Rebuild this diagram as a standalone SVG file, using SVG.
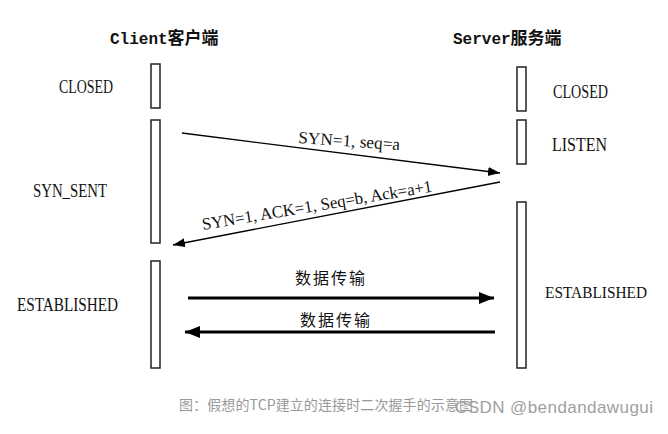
<svg xmlns="http://www.w3.org/2000/svg" width="668" height="434" viewBox="0 0 668 434">
<style>
.bar{fill:#fff;stroke:#222;stroke-width:1.5}
.title{font-family:"Liberation Mono","Noto Sans CJK SC",monospace;font-weight:bold;fill:#111}
.state{font-family:"Liberation Serif","Noto Sans CJK SC",serif;font-size:19px;fill:#111}
.lbl{font-family:"Liberation Serif","Noto Sans CJK SC",serif;fill:#111}
.cjk{font-family:"Noto Sans CJK SC",sans-serif;font-size:16px;fill:#111;letter-spacing:2px}
.thin{stroke:#000;stroke-width:1.3;fill:none}
.thick{stroke:#000;stroke-width:3;fill:none}
</style>
<defs>
<marker id="ah" markerUnits="userSpaceOnUse" markerWidth="13" markerHeight="10" refX="12" refY="4.5" orient="auto"><path d="M0,0 L12,4.5 L0,9 z" fill="#000"/></marker>
<marker id="ahb" markerUnits="userSpaceOnUse" markerWidth="16" markerHeight="13" refX="15" refY="6" orient="auto"><path d="M0,0 L15,6 L0,12 z" fill="#000"/></marker>
</defs>
<rect width="668" height="434" fill="#fff"/>
<g id="client">
<text class="title" x="110" y="44"><tspan font-size="16">Client</tspan><tspan font-size="17" font-family="Noto Sans CJK SC, sans-serif">客户端</tspan></text>
<rect class="bar" x="151" y="64" width="9" height="44"/>
<rect class="bar" x="151" y="120" width="9" height="123"/>
<rect class="bar" x="151" y="261" width="9" height="107"/>
<text class="state" x="59" y="93" textLength="54" lengthAdjust="spacingAndGlyphs">CLOSED</text>
<text class="state" x="33" y="197" textLength="74" lengthAdjust="spacingAndGlyphs">SYN_SENT</text>
<text class="state" x="17" y="311" textLength="101" lengthAdjust="spacingAndGlyphs">ESTABLISHED</text>
</g>
<g id="server">
<text class="title" x="453" y="44"><tspan font-size="16">Server</tspan><tspan font-size="17" font-family="Noto Sans CJK SC, sans-serif">服务端</tspan></text>
<rect class="bar" x="517" y="67" width="9" height="44"/>
<rect class="bar" x="517" y="120" width="9" height="44"/>
<rect class="bar" x="517" y="202" width="9" height="166"/>
<text class="state" x="553" y="98" textLength="55" lengthAdjust="spacingAndGlyphs">CLOSED</text>
<text class="state" x="552" y="151" textLength="55" lengthAdjust="spacingAndGlyphs">LISTEN</text>
<text class="state" x="545" y="298" style="font-size:17px" textLength="102" lengthAdjust="spacingAndGlyphs">ESTABLISHED</text>
</g>
<g id="connectors">
<line class="thin" x1="182" y1="133" x2="500" y2="173" marker-end="url(#ah)"/>
<line class="thin" x1="500" y1="182" x2="173" y2="245" marker-end="url(#ah)"/>
<line class="thick" x1="188" y1="298" x2="494" y2="298" marker-end="url(#ahb)"/>
<line class="thick" x1="495" y1="332" x2="185" y2="332" marker-end="url(#ahb)"/>
<text class="lbl" font-size="17" transform="translate(298,143) rotate(4)" textLength="102" lengthAdjust="spacingAndGlyphs">SYN=1, seq=a</text>
<text class="lbl" font-size="17" transform="translate(203,230) rotate(-9.5)" textLength="233" lengthAdjust="spacingAndGlyphs">SYN=1, ACK=1, Seq=b, Ack=a+1</text>
<text class="cjk" x="295" y="284">数据传输</text>
<text class="cjk" x="300" y="326">数据传输</text>
</g>
<text x="179" y="410" font-family="Noto Sans CJK SC, sans-serif" font-size="14" fill="#999" textLength="294">图：假想的TCP建立的连接时二次握手的示意图</text>
<text x="455" y="413" font-family="Liberation Sans, Arial, sans-serif" font-size="17" fill="#a0a0a0" textLength="198">CSDN @bendandawugui</text>
</svg>
